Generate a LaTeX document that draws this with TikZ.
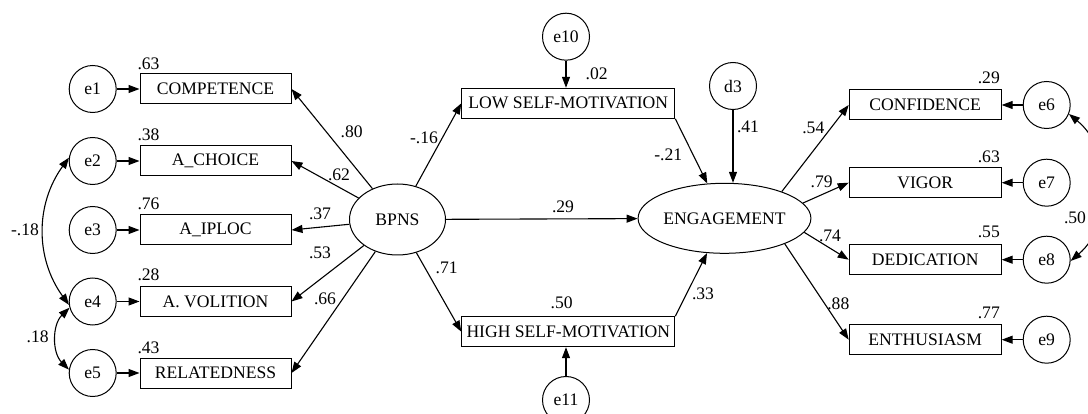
\documentclass[tikz,border=0pt]{standalone}
\usepackage{fontspec}
\setmainfont{Liberation Serif}
\usetikzlibrary{arrows.meta,shapes.geometric,calc}
\begin{document}
\begin{tikzpicture}[x=1pt,y=-1pt,
  font=\fontsize{17.6}{20}\selectfont,
  box/.style={draw, line width=1pt, inner sep=0pt, minimum height=30pt},
  lbox/.style={box, minimum width=151pt},
  mbox/.style={box, minimum width=213pt},
  rbox/.style={box, minimum width=152pt},
  err/.style={circle, draw, line width=1pt, minimum size=47pt, inner sep=0pt},
  lat/.style={ellipse, draw, line width=1pt, inner sep=0pt},
  arr/.style={-{Triangle[length=11pt,width=8pt]}, line width=1.1pt},
  cov/.style={{Triangle[length=11pt,width=8pt]}-{Triangle[length=11pt,width=8pt]}, line width=1.1pt},
  num/.style={inner sep=0pt}
]
\useasboundingbox (0,0) rectangle (1088,414);

% left indicators
\node[lbox] (comp) at (215.5,89) {COMPETENCE};
\node[lbox] (choice) at (215.5,161) {A\_CHOICE};
\node[lbox] (iploc) at (215.5,230) {A\_IPLOC};
\node[lbox] (vol) at (215.5,301.5) {A. VOLITION};
\node[lbox] (rel) at (215.5,373) {RELATEDNESS};

\node[err] (e1) at (92.7,89) {e1};
\node[err] (e2) at (92.7,161) {e2};
\node[err] (e3) at (92.7,230) {e3};
\node[err] (e4) at (92.7,301.5) {e4};
\node[err] (e5) at (92.7,373) {e5};

\node[lat, minimum width=96pt, minimum height=71pt] (bpns) at (397.5,219.5) {BPNS};

% middle
\node[mbox] (low) at (568.3,103.3) {LOW SELF-MOTIVATION};
\node[mbox] (high) at (568.3,331.7) {HIGH SELF-MOTIVATION};
\node[err] (e10) at (566,36.7) {e10};
\node[err] (e11) at (566,400) {e11};
\node[err] (d3) at (733,86) {d3};
\node[lat, minimum width=154pt, minimum height=70pt] (eng) at (724.5,218.3) {ENGAGEMENT};

% right indicators
\node[rbox] (conf) at (925.2,105) {CONFIDENCE};
\node[rbox] (vig) at (925.2,182.7) {VIGOR};
\node[rbox] (ded) at (925.2,259.7) {DEDICATION};
\node[rbox] (enth) at (925.2,339.7) {ENTHUSIASM};

\node[err] (e6) at (1046.7,105) {e6};
\node[err] (e7) at (1046.7,182.7) {e7};
\node[err] (e8) at (1046.7,259.7) {e8};
\node[err] (e9) at (1046.7,339.7) {e9};

% error arrows
\draw[arr] (e1) -- (comp);
\draw[arr] (e2) -- (choice);
\draw[arr] (e3) -- (iploc);
\draw[arr] (e4) -- (vol);
\draw[arr] (e5) -- (rel);
\draw[arr] (e6) -- (conf);
\draw[arr] (e7) -- (vig);
\draw[arr] (e8) -- (ded);
\draw[arr] (e9) -- (enth);
\draw[arr] (e10) -- (e10 |- low.north);
\draw[arr] (e11) -- (e11 |- high.south);
\draw[arr] (d3) -- (d3 |- eng.north);

% BPNS loadings
\draw[arr] (bpns) -- (comp.east);
\draw[arr] (bpns) -- (choice.east);
\draw[arr] (bpns) -- (iploc.east);
\draw[arr] (bpns) -- (vol.east);
\draw[arr] (bpns) -- (rel.east);

% structural paths
\draw[arr] (bpns) -- (low.west);
\draw[arr] (bpns) -- (high.west);
\draw[arr] (bpns) -- (eng);
\draw[arr] (low.south east) -- (eng);
\draw[arr] (high.north east) -- (eng);

% engagement loadings
\draw[arr] (eng.25) -- (conf.west);
\draw[arr] (eng.11) -- (vig.west);
\draw[arr] (eng.-10) -- (ded.west);
\draw[arr] (eng.-23) -- (enth.west);

% covariances
\draw[cov] (e2.172) to[bend right=36] (e4.188);
\draw[cov] (e4.195) to[bend right=45] (e5.172);
\draw[cov] (e6.-22) to[bend left=50] (e8.-3);

% numbers
\node[num] at (148.5,64) {.63};
\node[num] at (148.5,135) {.38};
\node[num] at (148.5,204) {.76};
\node[num] at (148.5,275) {.28};
\node[num] at (148.5,347.3) {.43};

\node[num] at (351.7,131.7) {.80};
\node[num] at (339,175) {.62};
\node[num] at (320,214) {.37};
\node[num] at (320,252.7) {.53};
\node[num] at (325,299) {.66};
\node[num] at (25,230) {-.18};
\node[num] at (37.7,336.7) {.18};

\node[num] at (424,137.3) {-.16};
\node[num] at (446.7,268.3) {.71};
\node[num] at (563,206.7) {.29};
\node[num] at (596.7,74) {.02};
\node[num] at (561.7,302.7) {.50};
\node[num] at (668.3,155) {-.21};
\node[num] at (748,127) {.41};
\node[num] at (703,293.3) {.33};

\node[num] at (813.3,128.3) {.54};
\node[num] at (821.7,181.7) {.79};
\node[num] at (830,235.7) {.74};
\node[num] at (838.3,303.3) {.88};

\node[num, anchor=east] at (1000,78.3) {.29};
\node[num, anchor=east] at (1000,156.7) {.63};
\node[num, anchor=east] at (1000,231.7) {.55};
\node[num, anchor=east] at (1000,313.3) {.77};
\node[num] at (1075,218) {.50};
\end{tikzpicture}
\end{document}
